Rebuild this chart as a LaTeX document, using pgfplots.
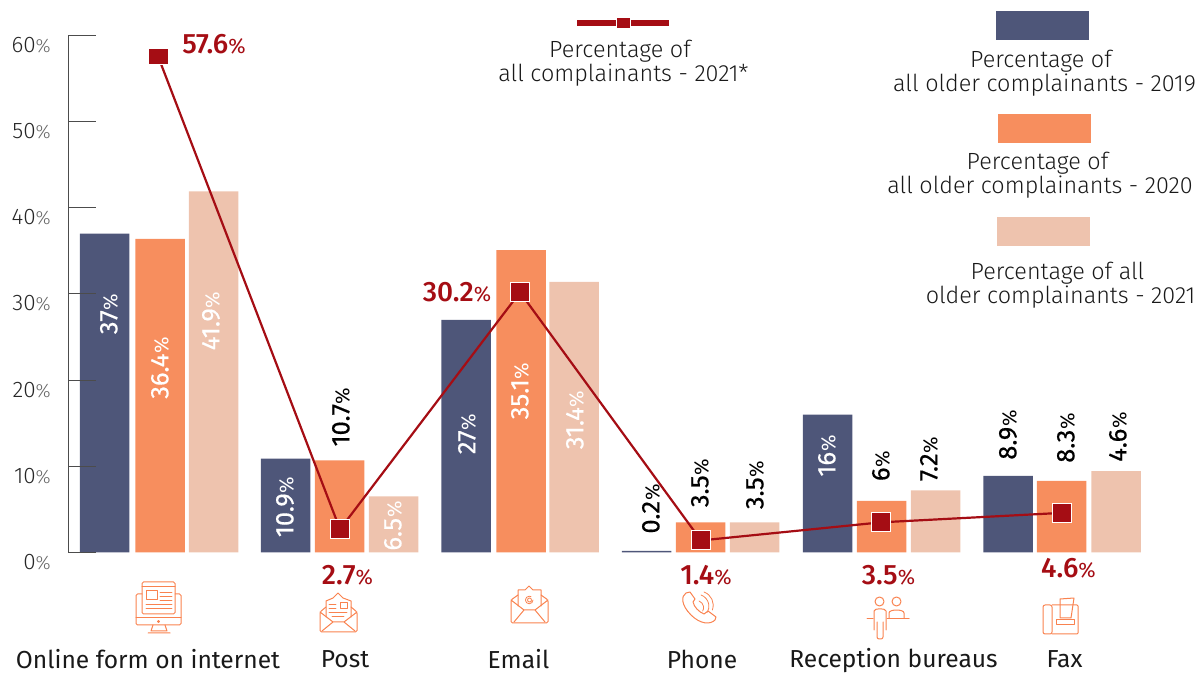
\documentclass[border=0pt]{standalone}
\usepackage{fontspec}
\usepackage{pgfplots}
\pgfplotsset{compat=1.18}
\setmainfont{Fira Sans Light}[BoldFont=Fira Sans Medium]
\newfontfamily\reg{Fira Sans}
\newfontfamily\boldf{Fira Sans Medium}
\newfontfamily\lightf{Fira Sans Light}
\newfontfamily\midf{Fira Sans}[FakeBold=0.5]
\definecolor{cblue}{HTML}{4E5679}
\definecolor{corange}{HTML}{F78E5E}
\definecolor{cpeach}{HTML}{EEC3AE}
\definecolor{cred}{HTML}{A50D14}
\definecolor{cicon}{HTML}{F9824F}
\begin{document}
\begin{tikzpicture}
\path[use as bounding box] (0,0) rectangle (1198pt,674pt);
\begin{axis}[
  at={(68pt,121.5pt)}, anchor=south west,
  x=1pt, y=8.617pt, xmin=0, xmax=1130, ymin=0, ymax=60,
  axis x line=none, axis y line=left, axis line style={-,color=black!70,line width=1pt},
  clip=false, axis on top,
  ytick={0,10,20,30,40,50,60},
  tick align=inside, major tick length=28pt,
  tick style={color=black!70,line width=1pt},
  /pgf/number format/assume math mode=true,
  yticklabel={{\lightf\fontsize{22.5}{24}\selectfont\textcolor{black!85}{\pgfmathprintnumber{\tick}}\fontsize{19}{20}\selectfont\textcolor{black!60}{\%}}},
  yticklabel style={anchor=east,xshift=-17pt,yshift=-9.5pt,inner sep=0pt},
  bar width=49.5, 
]
\addplot[ybar,bar shift=0pt,fill=cblue,draw=none] coordinates {(36.5,37)(217.5,10.9)(398,27)(578.5,0.2)(759.5,16)(940,8.9)};
\addplot[ybar,bar shift=0pt,fill=corange,draw=none] coordinates {(92,36.4)(271.5,10.7)(453,35.1)(632.5,3.5)(813.5,6)(993.5,8.3)};
\addplot[ybar,bar shift=0pt,fill=cpeach,draw=none] coordinates {(145.5,41.9)(325.5,6.5)(506,31.4)(686.5,3.5)(867.5,7.2)(1048,9.45)};
\addplot[color=cred,line width=2.2pt,no marks] coordinates {(90,57.6)(272,2.7)(452,30.2)(633,1.4)(813,3.5)(994,4.6)};
\addplot[only marks,mark=square*,mark size=9.5pt,mark options={fill=cred,draw=white,line width=1pt}] coordinates {(272,2.7)(452,30.2)(633,1.4)(813,3.5)(994,4.6)};
\addplot[only marks,mark=square*,mark size=9.5pt,mark options={fill=cred,draw=white,line width=0.6pt,yscale=0.82,xscale=1.05}] coordinates {(90,57.6)};
\end{axis}
\begin{scope}[x=1pt,y=-1pt,yshift=674pt,
  lg/.style={inner sep=0pt,anchor=center,font=\lightf\fontsize{23.4}{24}\selectfont,text=black!90},
  cat/.style={inner sep=0pt,anchor=center,font=\reg\fontsize{24.6}{25}\selectfont,text=black!90},
  rl/.style={inner sep=0pt,anchor=center},
  ic/.style={draw=cicon,line width=1pt,line join=round,line cap=round,fill=none}]
% legend swatches
\fill[cred] (577,20) rectangle (669,26);
\fill[cred,draw=white,line width=0.6pt] (616,17.5) rectangle (630,28);
\fill[cblue] (996,11) rectangle (1089,40);
\fill[corange] (998,114) rectangle (1091,143);
\fill[cpeach] (997,217) rectangle (1090,246);
% legend text
\node[lg] at (620,51.5) {Percentage of};
\node[lg] at (623.5,75.5) {all complainants - 2021*};
\node[lg] at (1041,61.5) {Percentage of};
\node[lg] at (1044.5,85.5) {all older complainants - 2019};
\node[lg] at (1037.5,163.5) {Percentage of};
\node[lg] at (1040,187.5) {all older complainants - 2020};
\node[lg] at (1057.5,273.5) {Percentage of all};
\node[lg] at (1060.5,297.5) {older complainants - 2021};
% red labels
\newcommand\rlab[4][28]{\node[rl,text=cred] at (#2,#3) {\boldf\fontsize{#1}{28}\selectfont #4\reg\fontsize{21}{22}\selectfont\%};}
\rlab{214}{44}{57.6}
\rlab{457}{292}{30.2}
\rlab{347.5}{575}{2.7}
\rlab{706}{575}{1.4}
\rlab{888.5}{575}{3.5}
\rlab{1068.5}{568}{4.6}
% bar labels
\newcommand\blab[4]{\node[rl,rotate=90,text=#1] at (#2,#3) {\midf\fontsize{25.5}{26}\selectfont #4\reg\fontsize{20}{22}\selectfont\%};}
\blab{white}{109}{314}{37}
\blab{white}{160}{368}{36.4}
\blab{white}{211}{321}{41.9}
\blab{white}{285}{507}{10.9}
\blab{black}{341}{417}{10.7}
\blab{white}{393}{526}{6.5}
\blab{white}{467}{434}{27}
\blab{white}{520}{391}{35.1}
\blab{white}{575}{420}{31.4}
\blab{black}{651}{509}{0.2}
\blab{black}{700}{483}{3.5}
\blab{black}{755}{485}{3.5}
\blab{white}{827}{456}{16}
\blab{black}{881}{466}{6}
\blab{black}{929}{459}{7.2}
\blab{black}{1008}{435}{8.9}
\blab{black}{1066}{438}{8.3}
\blab{black}{1118}{437}{4.6}
% categories
\node[cat] at (148,659.5) {Online form on internet};
\node[cat] at (345,659.5) {Post};
\node[cat] at (518.5,659.5) {Email};
\node[cat] at (702,659.5) {Phone};
\node[cat] at (893.5,660.5) {Reception bureaus};
\node[cat] at (1064.5,659.5) {Fax};
% icon: computer
\draw[ic,rounded corners=1.5pt] (142,594) -- (136,594) -- (136,625) -- (181,625) -- (181,594) -- (175,594);
\draw[ic,rounded corners=1.5pt] (142,582) rectangle (175,614);
\draw[ic] (142,587) -- (175,587);
\draw[ic] (136,618) -- (181,618);
\draw[ic] (146,591) rectangle (157,600);
\draw[ic,line width=0.7pt] (160,592) -- (172,592) (160,596) -- (172,596) (160,600) -- (172,600) (146,604) -- (172,604) (146,608) -- (172,608);
\draw[ic,line width=0.8pt] (158.5,621.5) circle (1);
\draw[ic] (153,625) -- (151,631) -- (167,631) -- (165,625) (148,633) -- (170,633);
% icon: post
\draw[ic,rounded corners=1.5pt] (326,607) -- (320,612) -- (320,632) -- (357,632) -- (357,612) -- (351,607);
\draw[ic] (326,617) -- (326,601) -- (333,598) -- (338,593) -- (343,598) -- (351,601) -- (351,617);
\draw[ic] (320,612) -- (333,622) -- (344,622) -- (357,612) (322,631) -- (333,622) (344,622) -- (355,631);
\draw[ic,line width=0.7pt] (329,604) -- (336,604) (329,608) -- (336,608) (329,612) -- (347,612) (332,616) -- (344,616);
\draw[ic,line width=0.8pt] (340,602) rectangle (347,608);
% icon: email
\draw[ic,rounded corners=1.5pt] (518,595) -- (511,600) -- (511,623) -- (548,623) -- (548,600) -- (541,595);
\draw[ic] (518,606) -- (518,590) -- (525,590) -- (529,586) -- (533,590) -- (541,590) -- (541,606);
\draw[ic] (511,600) -- (524,610) -- (535,610) -- (548,600) (514,622) -- (524,610) (535,610) -- (545,622);
\draw[ic,line width=0.8pt] (529.5,600) circle (2) (533,600) arc (0:300:3.8);
% icon: phone
\draw[ic] (686,593) .. controls (681,596) and (681,605) .. (691,615) .. controls (700,624) and (710,625) .. (715,620) -- (716,617) -- (708,611) -- (704,614) .. controls (699,612) and (694,607) .. (693,602) -- (695,599) -- (690,592) -- cycle;
\draw[ic,line width=0.8pt] (699,601) arc (-70:30:7) (701,595) arc (-70:30:12) (704,592) arc (-70:20:14);
% icon: reception
\draw[ic] (879.5,601.5) circle (4.5) (896.5,601.5) circle (4.5);
\draw[ic] (889,618) -- (889,613) .. controls (889,609) and (904,609) .. (904,613) -- (904,618);
\draw[ic] (867,619) -- (873,619) (887,619) -- (909,619);
\draw[ic,rounded corners=2pt] (874,630) -- (874,613) .. controls (874,608) and (886,608) .. (886,613) -- (886,630);
\draw[ic,rounded corners=2pt] (877,622) -- (877,639) -- (883,639) -- (883,622);
% icon: fax
\draw[ic,rounded corners=1pt] (1052,605) -- (1078,605) -- (1078,634) -- (1052,634);
\draw[ic,rounded corners=2pt] (1052,605) -- (1043,605) -- (1043,634) -- (1052,634) -- cycle;
\draw[ic] (1060,618) -- (1060,599) -- (1074,598) -- (1071,618) -- cycle;
\draw[ic] (1056,620) rectangle (1074,625);
\end{scope}
\end{tikzpicture}
\end{document}
